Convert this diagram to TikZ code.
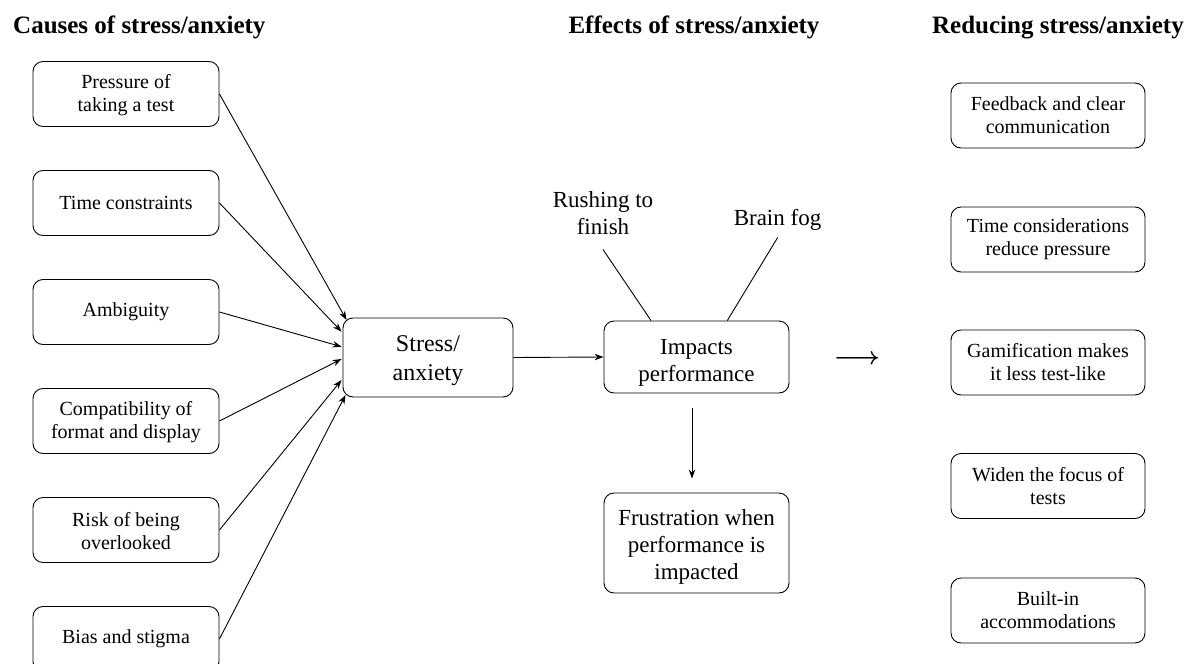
\documentclass[tikz,border=0pt]{standalone}
\usepackage{fontspec}
\setmainfont{Liberation Serif}
\usetikzlibrary{arrows.meta}
\begin{document}
\begin{tikzpicture}[x=1pt,y=-1pt,
  box/.style={draw, line width=0.9pt, rounded corners=10pt, align=center, inner sep=0pt},
  lbox/.style={box, minimum width=186pt, minimum height=65pt, font=\fontsize{20}{23}\selectfont},
  rbox/.style={box, minimum width=194pt, minimum height=65pt, font=\fontsize{20}{23}\selectfont},
  cbox/.style={box, minimum width=185pt, font=\fontsize{23}{27}\selectfont},
  head/.style={font=\fontsize{25}{30}\selectfont\bfseries, inner sep=0pt},
  lbl/.style={font=\fontsize{23}{27}\selectfont, align=center, inner sep=0pt},
  bigarrow/.style={inner sep=0pt, font=\fontsize{37}{37}\selectfont\mathversion{bold}},
  arr/.style={line width=0.9pt, -{Stealth[length=9pt,width=6.5pt]}},
  ln/.style={line width=0.9pt}]
\useasboundingbox (0,0) rectangle (1195,664);
\clip (0,0) rectangle (1195,664);

% headings
\node[head, anchor=base west] (h1) at (13,33) {Causes of stress/anxiety};
\node[head, anchor=base] (h2) at (694,33) {Effects of stress/anxiety};
\node[head, anchor=base east] (h3) at (1184,33) {Reducing stress/anxiety};

% causes
\node[lbox] (c1) at (126,94) {\rule{0pt}{17pt}Pressure of\\taking a test};
\node[lbox] (c2) at (126,203) {Time constraints};
\node[lbox] (c3) at (126,312) {Ambiguity};
\node[lbox] (c4) at (126,421) {\rule{0pt}{17pt}Compatibility of\\format and display};
\node[lbox] (c5) at (126,530) {\rule{0pt}{17pt}Risk of being\\overlooked};
\node[lbox] (c6) at (126,639) {Bias and stigma};

% centre
\node[box, minimum width=170pt, minimum height=79pt, font=\fontsize{24}{29}\selectfont] (s) at (428,357.5) {\rule{0pt}{23pt}Stress/\\anxiety};
\node[cbox, minimum height=72pt] (imp) at (696.5,357) {\rule{0pt}{27.5pt}Impacts\\performance};
\node[cbox, minimum height=100pt] (fr) at (696.5,543) {\rule{0pt}{23pt}Frustration when\\performance is\\impacted};
\node[lbl] (rush) at (603,212.7) {Rushing to\\finish};
\node[lbl] (fog) at (777.5,219.7) {Brain fog};
\node[bigarrow] (la) at (857,360) {$\longrightarrow$};

% reducing
\node[rbox] (r1) at (1048,115.5) {Feedback and clear\\communication};
\node[rbox] (r2) at (1048,239.5) {Time considerations\\reduce pressure};
\node[rbox] (r3) at (1048,362.5) {Gamification makes\\it less test-like};
\node[rbox] (r4) at (1048,486) {Widen the focus of\\tests};
\node[rbox] (r5) at (1048,610.5) {Built-in\\accommodations};

% connectors
\draw[arr] (c1.east) -- ([xshift=4pt,yshift=37.5pt]s.west);
\draw[arr] (c2.east) -- ([xshift=-1pt,yshift=25.8pt]s.west);
\draw[arr] (c3.east) -- ([xshift=-1pt,yshift=10.8pt]s.west);
\draw[arr] (c4.east) -- ([xshift=-1pt,yshift=-1.5pt]s.west);
\draw[arr] (c5.east) -- ([xshift=-1pt,yshift=-22.5pt]s.west);
\draw[arr] (c6.east) -- ([xshift=3pt,yshift=-37.5pt]s.west);
\draw[arr] (s.east) -- (imp.west);
\draw[ln] ([yshift=-15pt]rush.south) -- ([xshift=-45.5pt]imp.north);
\draw[ln] ([yshift=-7pt,xshift=0.2pt]fog.south) -- ([xshift=30.8pt]imp.north);
\draw[arr] ([xshift=-4.5pt,yshift=-15pt]imp.south) -- ([xshift=-4.5pt,yshift=14pt]fr.north);
\end{tikzpicture}
\end{document}
